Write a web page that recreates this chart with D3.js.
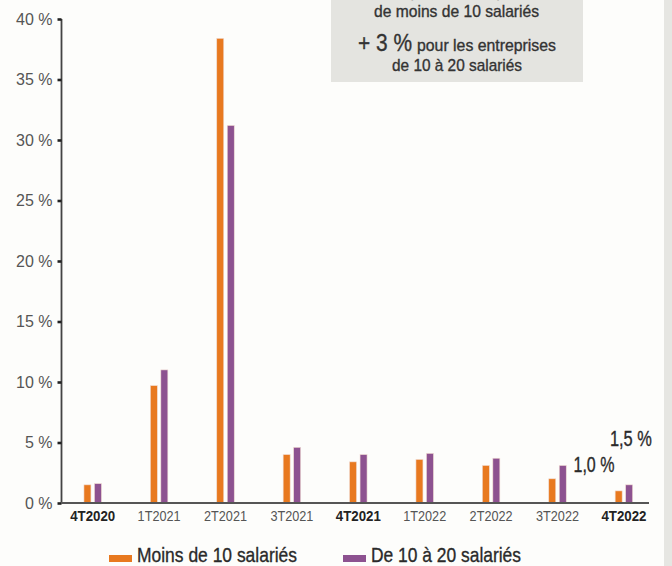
<!DOCTYPE html>
<html>
<head>
<meta charset="utf-8">
<script src="https://cdn.jsdelivr.net/npm/d3@7"></script>
<style>
  html, body { margin: 0; padding: 0; background: #fdfdfb; }
  svg { display: block; }
</style>
</head>
<body>
<script>
// Quarterly categories and the two company-size series (in %)
const quarters = ["4T2020", "1T2021", "2T2021", "3T2021", "4T2021", "1T2022", "2T2022", "3T2022", "4T2022"];
const boldQuarters = ["4T2020", "4T2021", "4T2022"];
const moins10 = [1.5, 9.7, 38.4, 4.0, 3.4, 3.6, 3.1, 2.0, 1.0];
const de10a20 = [1.6, 11.0, 31.2, 4.6, 4.0, 4.1, 3.7, 3.1, 1.5];
const yTicks = [0, 5, 10, 15, 20, 25, 30, 35, 40];
const seriesNames = ["Moins de 10 salariés", "De 10 à 20 salariés"];
const seriesColors = ["#e8791f", "#8d5290"];

const W = 672, H = 566;
const sans = "'Liberation Sans', Arial, Helvetica, sans-serif";

// squeeze a text to a given width to get a condensed look
function condense(sel, width) {
  sel.attr("textLength", width).attr("lengthAdjust", "spacingAndGlyphs");
  return sel;
}
// slightly heavier strokes for the medium-weight labels
function medium(sel, color) {
  sel.attr("fill", color).attr("stroke", color).attr("stroke-width", 0.35);
  return sel;
}

const svg = d3.select("body").append("svg").attr("width", W).attr("height", H);
svg.append("rect").attr("width", W).attr("height", H).attr("fill", "#fdfdfb");

// right-hand grey strip
svg.append("rect").attr("x", 664).attr("y", 0).attr("width", W - 664).attr("height", H).attr("fill", "#e6e6e2");

const x = d3.scaleBand().domain(quarters).range([59.5, 657.1]);
const y = d3.scaleLinear().domain([0, 40]).range([503, 19]);
const inner = d3.scaleBand().domain([0, 1]).range([-8.75, 8.75]).paddingInner(1 / 3);
const cx = q => x(q) + x.bandwidth() / 2;

// bars
const groups = svg.append("g").selectAll("g").data(quarters).join("g")
  .attr("transform", d => `translate(${cx(d)},0)`);
[moins10, de10a20].forEach((series, s) => {
  groups.append("rect")
    .attr("x", inner(s))
    .attr("width", inner.bandwidth())
    .attr("y", (d, i) => y(series[i]))
    .attr("height", (d, i) => y(0) - y(series[i]))
    .attr("fill", seriesColors[s])
    .attr("stroke", "#f1dcd3")
    .attr("stroke-width", 0.6);
});

// y axis
const yAxis = d3.axisLeft(y).tickValues(yTicks).tickSize(4).tickPadding(5)
  .tickFormat(d => d + " %");
const gy = svg.append("g").attr("transform", "translate(61.5,0)").call(yAxis);
gy.select(".domain").attr("stroke", "#444").attr("stroke-width", 1.8).attr("d", "M0,19V504");
gy.selectAll(".tick line").attr("stroke", "#222").attr("stroke-width", 2.6);
gy.selectAll(".tick text").attr("fill", "#555").attr("font-size", 16)
  .attr("font-family", sans);

// x axis
const xAxis = d3.axisBottom(x).tickSize(0).tickPadding(8);
const gx = svg.append("g").attr("transform", "translate(0,503)").call(xAxis);
gx.select(".domain").attr("stroke", "#555").attr("stroke-width", 2).attr("d", "M61,0H649");
gx.selectAll(".tick text")
  .attr("fill", d => boldQuarters.includes(d) ? "#222" : "#555")
  .attr("font-size", 14.5)
  .attr("font-family", sans)
  .attr("font-weight", d => boldQuarters.includes(d) ? "bold" : "normal")
  .each(function (d) { condense(d3.select(this), boldQuarters.includes(d) ? 45 : 43); });

// value callouts for the last quarter
const last = quarters.length - 1;
const pct = v => d3.format(".1f")(v).replace(".", ",") + " %";
condense(medium(svg.append("text")
  .attr("x", cx(quarters[last - 1]) + 16)
  .attr("y", y(moins10[last]) - 19)
  .attr("font-family", sans).attr("font-size", 22)
  .text(pct(moins10[last])), "#2a2a2a"), 41);
condense(medium(svg.append("text")
  .attr("x", cx(quarters[last]) - 14)
  .attr("y", y(de10a20[last]) - 39)
  .attr("font-family", sans).attr("font-size", 22)
  .text(pct(de10a20[last])), "#2a2a2a"), 42);

// annotation box at the top
svg.append("rect").attr("x", 331).attr("y", 0).attr("width", 252).attr("height", 82).attr("fill", "#e4e4e0");
const box = svg.append("g").attr("font-family", sans);
const boxText = (xx, yy, size, str, w) =>
  condense(medium(box.append("text").attr("x", xx).attr("y", yy).attr("font-size", size).text(str), "#333"), w);
boxText(374, -3, 17, "- 2 % pour les entreprises", 160);
boxText(374, 17, 17, "de moins de 10 salariés", 165);
boxText(358, 51, 24, "+ 3 %", 54);
boxText(417, 51, 17, "pour les entreprises", 139);
boxText(392, 71, 17, "de 10 à 20 salariés", 130);

// legend
const legendX = [109, 343];
const legendW = [160, 150];
seriesNames.forEach((name, i) => {
  svg.append("rect").attr("x", legendX[i]).attr("y", 555).attr("width", 23).attr("height", 7)
    .attr("fill", seriesColors[i]);
  condense(medium(svg.append("text").attr("x", legendX[i] + 28).attr("y", 562)
    .attr("font-family", sans).attr("font-size", 21)
    .text(name), "#2a2a2a"), legendW[i]);
});
</script>
</body>
</html>
